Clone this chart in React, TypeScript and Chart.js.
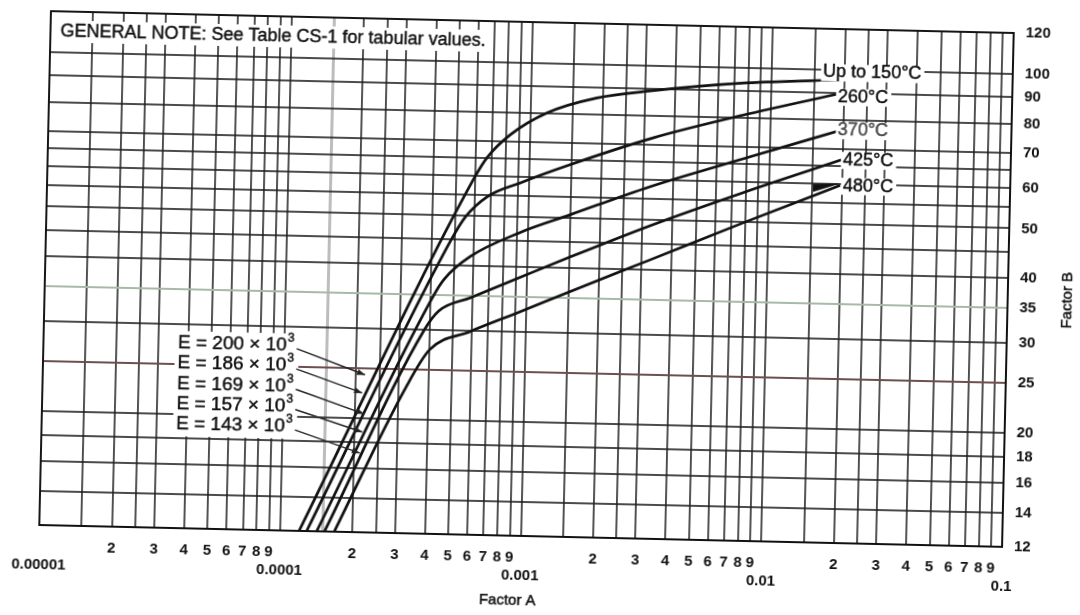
import React, { useEffect, useRef } from "react";
import { Chart, registerables } from "chart.js";

Chart.register(...registerables);

const FONT = '"Liberation Sans", Arial, Helvetica, sans-serif';

// ---------- Axis ticks ----------
const decadeStarts = [1e-5, 1e-4, 1e-3, 1e-2];
const gridMultipliers = [1, 1.5, 2, 2.5, 3, 4, 5, 6, 7, 8, 9];
const decadeLabels = ["0.00001", "0.0001", "0.001", "0.01", "0.1"];
const xMin = 1e-5;
const xMax = 0.1;
const yTicks = [12, 14, 16, 18, 20, 25, 30, 35, 40, 45, 50, 55, 60, 65, 70, 80, 90, 100, 120];
const yUnlabeled = [45, 55, 65];
const yMin = 12;
const yMax = 120;

// ---------- Curves (Factor A, Factor B) ----------
const curveNames = ["Up to 150°C", "260°C", "370°C", "425°C", "480°C"];

const a150 = [1.2e-4, 5.9e-4, 6.7e-4, 8.28e-4, 1.173e-3, 1.887e-3, 3.13e-3, 7.89e-3, 1.96e-2];
const b150 = [12, 59.0, 65.2, 72.2, 80.0, 86.0, 89.2, 93.4, 95.6];

const a260 = [1.29e-4, 4.84e-4, 5.5e-4, 6.73e-4, 9.2e-4, 1.479e-3, 3.25e-3, 7.65e-3, 1.96e-2];
const b260 = [12, 45.0, 49.8, 54.6, 58.3, 63.6, 72.3, 80.8, 90.1];

const a370 = [1.42e-4, 4.14e-4, 4.55e-4, 5.8e-4, 9.31e-4, 1.494e-3, 3.19e-3, 8.25e-3, 1.98e-2];
const b370 = [12, 35.0, 37.6, 41.7, 46.7, 50.8, 58.1, 67.1, 76.4];

const a425 = [1.53e-4, 3.82e-4, 4.35e-4, 5.88e-4, 9.4e-4, 1.516e-3, 3.26e-3, 7.85e-3, 1.976e-2];
const b425 = [12, 30.0, 32.6, 34.7, 38.2, 42.1, 48.9, 57.2, 66.8];

const a480 = [1.68e-4, 3.22e-4, 4.03e-4, 5.88e-4, 9.4e-4, 1.516e-3, 3.26e-3, 7.85e-3, 1.966e-2];
const b480 = [12, 23.0, 27.4, 29.8, 32.7, 36.0, 41.9, 49.9, 59.6];

const curveLabelA = [1.63e-2, 1.89e-2, 1.9e-2, 2.01e-2, 2.02e-2];
const curveLabelB = [98.8, 88.6, 76.3, 66.8, 59.5];
const curveLabelColors = ["#111", "#111", "#4a4a4a", "#111", "#111"];

// ---------- Elastic modulus labels ----------
const eValues = ["200", "186", "169", "157", "143"];
const eLabelA = 3.62e-5;
const eLabelB = 27.5;
const eArrowA = [2.18e-4, 2.13e-4, 2.18e-4, 2.15e-4, 2.11e-4];
const eArrowB = [24.3, 22.4, 20.4, 18.8, 17.1];

const noteText = "GENERAL NOTE: See Table CS-1 for tabular values.";

// build tick lists
const xTickValues: number[] = [];
const xTickLabels: (string | string[])[] = [];
decadeStarts.forEach((d, i) => {
  gridMultipliers.forEach((m) => {
    xTickValues.push(Number((d * m).toPrecision(6)));
    if (m === 1) xTickLabels.push(["", decadeLabels[i]]);
    else if (Number.isInteger(m)) xTickLabels.push(String(m));
    else xTickLabels.push("");
  });
});
xTickValues.push(xMax);
xTickLabels.push(["", decadeLabels[4]]);

const pairs = (a: number[], b: number[]) => a.map((x, i) => ({ x, y: b[i] }));
const curveData = [pairs(a150, b150), pairs(a260, b260), pairs(a370, b370), pairs(a425, b425), pairs(a480, b480)];

const GRID = "rgba(30,30,30,0.8)";

function heavyText(ctx: any, t: string, x: number, y: number, color: string) {
  ctx.fillStyle = color;
  ctx.strokeStyle = color;
  ctx.lineWidth = 0.45;
  ctx.fillText(t, x, y);
  ctx.strokeText(t, x, y);
}

const overlayPlugin = {
  id: "overlay",
  beforeDraw(chart: any) {
    const c = chart.ctx;
    c.save();
    c.fillStyle = "#fff";
    c.fillRect(0, 0, chart.width, chart.height);
    c.restore();
  },
  afterDatasetsDraw(chart: any) {
    const ctx = chart.ctx;
    const ca = chart.chartArea;
    const xs = chart.scales.x;
    const ys = chart.scales.y;
    ctx.save();

    // frame
    ctx.strokeStyle = "#111";
    ctx.lineWidth = 1.8;
    ctx.strokeRect(ca.left, ca.top, ca.right - ca.left, ca.bottom - ca.top);

    // general note
    ctx.font = `18px ${FONT}`;
    ctx.textAlign = "left";
    ctx.textBaseline = "middle";
    const nx = ca.left + 10;
    const ny = ca.top + 20;
    const nw = ctx.measureText(noteText).width;
    ctx.fillStyle = "#fff";
    ctx.fillRect(nx - 4, ny - 11, nw + 8, 22);
    heavyText(ctx, noteText, nx, ny, "#111");

    // curve labels
    ctx.font = `18px ${FONT}`;
    curveNames.forEach((name, i) => {
      const lx = xs.getPixelForValue(curveLabelA[i]);
      const ly = ys.getPixelForValue(curveLabelB[i]);
      const w = ctx.measureText(name).width;
      ctx.fillStyle = "#fff";
      ctx.fillRect(lx - 2, ly - 8, w + 5, 17);
      heavyText(ctx, name, lx, ly, curveLabelColors[i]);
      if (i === 4) {
        ctx.fillStyle = "#111";
        ctx.beginPath();
        ctx.moveTo(lx - 30, ly - 1);
        ctx.lineTo(lx - 30, ly + 7);
        ctx.lineTo(lx - 3, ly - 2);
        ctx.closePath();
        ctx.fill();
      }
    });

    // E labels
    const ex = xs.getPixelForValue(eLabelA);
    const ey = ys.getPixelForValue(eLabelB);
    const rowH = 20.3;
    ctx.font = `19px ${FONT}`;
    const mainTexts = eValues.map((v) => `E = ${v} × 10`);
    const widths = mainTexts.map((t) => ctx.measureText(t).width);
    const maxW = Math.max(...widths) + 9;
    ctx.fillStyle = "#fff";
    ctx.fillRect(ex - 3, ey - 12, maxW + 6, rowH * 4 + 24);
    mainTexts.forEach((t, i) => {
      const ry = ey + i * rowH;
      ctx.font = `19px ${FONT}`;
      ctx.textBaseline = "middle";
      heavyText(ctx, t, ex, ry, "#111");
      ctx.font = `12px ${FONT}`;
      heavyText(ctx, "3", ex + widths[i] + 1, ry - 7, "#111");
      // leader with arrow
      const sx = ex + widths[i] + 10;
      const sy = ry + 3;
      const tx = xs.getPixelForValue(eArrowA[i]);
      const ty = ys.getPixelForValue(eArrowB[i]);
      ctx.strokeStyle = "#222";
      ctx.lineWidth = 1.4;
      ctx.beginPath();
      ctx.moveTo(sx, sy);
      ctx.lineTo(tx, ty);
      ctx.stroke();
      const ang = Math.atan2(ty - sy, tx - sx);
      ctx.fillStyle = "#222";
      ctx.beginPath();
      ctx.moveTo(tx, ty);
      ctx.lineTo(tx - 8 * Math.cos(ang) + 3 * Math.sin(ang), ty - 8 * Math.sin(ang) - 3 * Math.cos(ang));
      ctx.lineTo(tx - 8 * Math.cos(ang) - 3 * Math.sin(ang), ty - 8 * Math.sin(ang) + 3 * Math.cos(ang));
      ctx.closePath();
      ctx.fill();
    });

    // axis titles
    ctx.font = `15px ${FONT}`;
    ctx.textAlign = "center";
    ctx.textBaseline = "middle";
    heavyText(ctx, "Factor A", (ca.left + ca.right) / 2 - 12, ca.bottom + 65, "#111");
    ctx.save();
    ctx.translate(ca.right + 60, (ca.top + ca.bottom) / 2 + 9);
    ctx.rotate(-Math.PI / 2);
    heavyText(ctx, "Factor B", 0, 0, "#111");
    ctx.restore();

    ctx.restore();
  },
};

export default function App() {
  const ref = useRef<HTMLCanvasElement | null>(null);

  useEffect(() => {
    if (!ref.current) return;
    const chart = new Chart(ref.current, {
      type: "scatter",
      data: {
        datasets: curveData.map((d, i) => ({
          label: curveNames[i],
          data: d,
          showLine: true,
          borderColor: "#121212",
          borderWidth: 2.7,
          pointRadius: 0,
          pointHoverRadius: 0,
          cubicInterpolationMode: "monotone" as const,
          fill: false,
        })),
      },
      options: {
        animation: false,
        responsive: false,
        devicePixelRatio: 1,
        events: [],
        layout: { padding: { left: 45, top: 22, right: 0, bottom: 0 } },
        plugins: {
          legend: { display: false },
          tooltip: { enabled: false },
          title: { display: false },
        },
        scales: {
          x: {
            type: "logarithmic",
            position: "bottom",
            min: xMin,
            max: xMax,
            afterBuildTicks: (scale: any) => {
              scale.ticks = xTickValues.map((v) => ({ value: v }));
            },
            afterFit: (scale: any) => {
              scale.height = 79;
            },
            ticks: {
              autoSkip: false,
              maxRotation: 0,
              minRotation: 0,
              padding: 13,
              color: "#111",
              font: { family: FONT, size: 15, weight: "bold", lineHeight: 1.2 },
              callback: (_v: any, i: number) => xTickLabels[i],
            },
            grid: {
              drawTicks: false,
              color: (c: any) => (c.tick && Math.abs(c.tick.value - 1.5e-4) < 1e-9 ? "#bdbdbd" : GRID),
              lineWidth: (c: any) => (c.tick && Math.abs(c.tick.value - 1.5e-4) < 1e-9 ? 3 : 1.9),
            },
            border: { display: true, color: "#111", width: 1.8 },
          },
          y: {
            type: "logarithmic",
            position: "right",
            min: yMin,
            max: yMax,
            afterBuildTicks: (scale: any) => {
              scale.ticks = yTicks.map((v) => ({ value: v }));
            },
            afterFit: (scale: any) => {
              scale.width = 72;
            },
            ticks: {
              autoSkip: false,
              padding: 12,
              color: "#111",
              font: { family: FONT, size: 15, weight: "bold" },
              callback: (v: any) => (yUnlabeled.includes(Number(v)) ? "" : String(v)),
            },
            grid: {
              drawTicks: false,
              color: (c: any) => {
                const v = c.tick ? c.tick.value : 0;
                if (v === 25) return "#6d4f4f";
                if (v === 35) return "#a7baa7";
                return GRID;
              },
              lineWidth: 1.9,
            },
            border: { display: true, color: "#111", width: 1.8 },
          },
        },
      },
      plugins: [overlayPlugin],
    } as any);
    return () => chart.destroy();
  }, []);

  return (
    <div
      style={{
        position: "fixed",
        left: 0,
        top: 0,
        width: 1080,
        height: 615,
        overflow: "hidden",
        background: "#fff",
      }}
    >
      <canvas
        ref={ref}
        width={1080}
        height={615}
        style={{
          display: "block",
          width: 1080,
          height: 615,
          transform: "rotate(1.3deg)",
          transformOrigin: "526.5px 279px",
        }}
      />
    </div>
  );
}
